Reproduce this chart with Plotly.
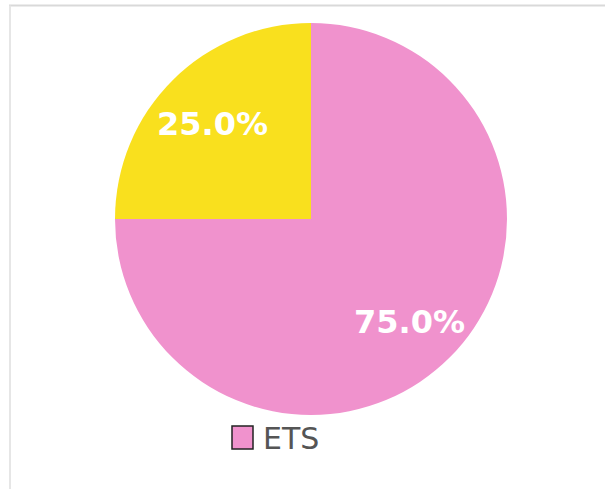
import math
import plotly.graph_objects as go

labels = ["ETS", "Other"]
values = [75, 25]
colors = ["#f092cd", "#f9e01e"]
legend_labels = ["ETS"]

W, H = 605, 489
CX, CY, R = 311, 219, 196  # pie centre / radius in px

def px(x):
    return x / W

def py(y):
    return 1 - y / H

fig = go.Figure()
fig.add_trace(go.Pie(
    labels=labels,
    values=values,
    sort=False,
    direction="clockwise",
    marker=dict(colors=colors, line=dict(width=0)),
    textinfo="none",
    showlegend=False,
    hoverinfo="label+percent",
    domain=dict(x=[px(CX - R), px(CX + R)], y=[py(CY + R), py(CY - R)]),
))

# percentage labels placed along each slice's middle angle
total = sum(values)
annotations = []
cum = 0.0
for v in values:
    mid = (cum + v / 2) / total * 2 * math.pi  # clockwise from 12 o'clock
    cum += v
    d = 0.714 * R
    x = CX + d * math.sin(mid)
    y = CY - d * math.cos(mid)
    annotations.append(dict(
        text=f"{v / total * 100:.1f}%", xref="paper", yref="paper",
        x=px(x), y=py(y), xanchor="center", yanchor="middle", yshift=-4,
        showarrow=False,
        font=dict(family="DejaVu Sans", size=32, color="white", weight="bold"),
    ))

annotations.append(dict(
    text=legend_labels[0], xref="paper", yref="paper", x=px(261), y=py(438),
    xanchor="left", yanchor="middle", showarrow=False,
    font=dict(family="DejaVu Sans", size=30, color="#555555"),
))

shapes = [
    dict(type="line", xref="paper", yref="paper", x0=px(9), x1=1.0, y0=py(5.5), y1=py(5.5),
         line=dict(color="#d9d9d9", width=2)),
    dict(type="line", xref="paper", yref="paper", x0=px(10), x1=px(10), y0=0, y1=py(5.5),
         line=dict(color="#e6e6e6", width=2)),
    dict(type="rect", xref="paper", yref="paper", x0=px(232), x1=px(253), y0=py(449), y1=py(426),
         fillcolor=colors[0], line=dict(color="#222", width=1.5)),
]

fig.update_layout(
    width=W, height=H,
    margin=dict(l=0, r=0, t=0, b=0),
    paper_bgcolor="white",
    plot_bgcolor="white",
    shapes=shapes,
    annotations=annotations,
)

fig.write_html("out.html")
